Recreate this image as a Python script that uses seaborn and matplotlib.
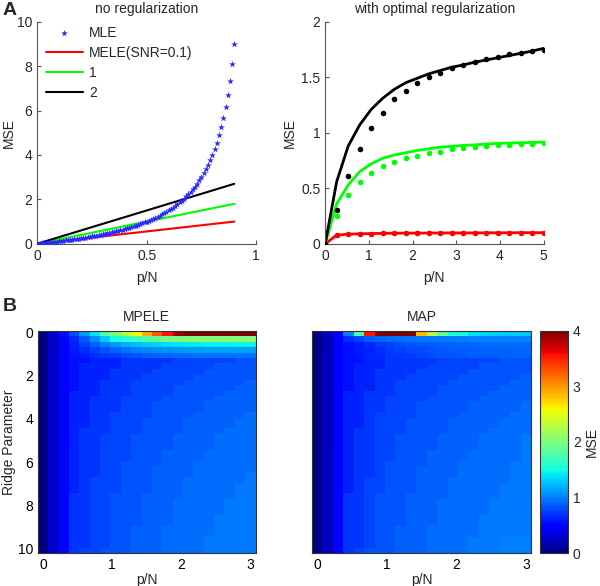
import numpy as np
import seaborn as sns
import matplotlib.pyplot as plt

# ---------------- panel A, left: no regularization ----------------
mle_pn = [0.00, 0.01, 0.02, 0.03, 0.04, 0.05, 0.06, 0.07, 0.08, 0.09,
          0.10, 0.11, 0.12, 0.13, 0.14, 0.15, 0.16, 0.17, 0.18, 0.19,
          0.20, 0.21, 0.22, 0.23, 0.24, 0.25, 0.26, 0.27, 0.28, 0.29,
          0.30, 0.31, 0.32, 0.33, 0.34, 0.35, 0.36, 0.37, 0.38, 0.39,
          0.40, 0.41, 0.42, 0.43, 0.44, 0.45, 0.46, 0.47, 0.48, 0.49,
          0.50, 0.51, 0.52, 0.53, 0.54, 0.55, 0.56, 0.57, 0.58, 0.59,
          0.60, 0.61, 0.62, 0.63, 0.64, 0.65, 0.66, 0.67, 0.68, 0.69,
          0.70, 0.71, 0.72, 0.73, 0.74, 0.75, 0.76, 0.77, 0.78, 0.79,
          0.80, 0.81, 0.82, 0.83, 0.84, 0.85, 0.86, 0.87, 0.88, 0.89, 0.90]
mle_mse = [0.00, 0.01, 0.02, 0.03, 0.04, 0.05, 0.06, 0.08, 0.09, 0.10,
           0.11, 0.12, 0.14, 0.15, 0.16, 0.18, 0.19, 0.20, 0.22, 0.23,
           0.25, 0.27, 0.28, 0.30, 0.32, 0.33, 0.35, 0.37, 0.39, 0.41,
           0.43, 0.45, 0.47, 0.49, 0.52, 0.54, 0.56, 0.59, 0.61, 0.64,
           0.67, 0.69, 0.72, 0.75, 0.79, 0.82, 0.85, 0.89, 0.92, 0.96,
           1.00, 1.04, 1.08, 1.13, 1.17, 1.22, 1.27, 1.33, 1.38, 1.44,
           1.50, 1.56, 1.63, 1.70, 1.78, 1.86, 1.94, 2.03, 2.13, 2.23,
           2.33, 2.45, 2.57, 2.70, 2.85, 3.00, 3.17, 3.35, 3.55, 3.76,
           4.00, 4.26, 4.56, 4.88, 5.25, 5.67, 6.14, 6.69, 7.33, 8.09, 9.00]
line_pn = [0.0, 0.9]
mele_snr01 = [0.0, 1.0]
mele_snr1 = [0.0, 1.8]
mele_snr2 = [0.0, 2.7]

# ---------------- panel A, right: optimal regularization ----------------
opt_pn = [0.0, 0.263, 0.526, 0.789, 1.053, 1.316, 1.579, 1.842, 2.105, 2.368,
          2.632, 2.895, 3.158, 3.421, 3.684, 3.947, 4.211, 4.474, 4.737, 5.0]
red_line = [0.0, 0.078, 0.086, 0.090, 0.092, 0.094, 0.095, 0.096, 0.096, 0.097,
            0.097, 0.098, 0.098, 0.098, 0.099, 0.099, 0.099, 0.100, 0.100, 0.100]
red_dots = [0.0, 0.075, 0.085, 0.089, 0.091, 0.093, 0.094, 0.095, 0.096, 0.096,
            0.097, 0.097, 0.098, 0.098, 0.098, 0.099, 0.099, 0.099, 0.099, 0.100]
green_line = [0.0, 0.36, 0.53, 0.65, 0.72, 0.77, 0.80, 0.82, 0.84, 0.855,
              0.87, 0.877, 0.886, 0.89, 0.898, 0.904, 0.907, 0.91, 0.913, 0.916]
green_dots = [0.0, 0.25, 0.44, 0.56, 0.64, 0.70, 0.74, 0.77, 0.79, 0.82,
              0.83, 0.85, 0.86, 0.87, 0.88, 0.885, 0.89, 0.90, 0.90, 0.91]
black_line = [0.0, 0.56, 0.88, 1.07, 1.21, 1.31, 1.39, 1.45, 1.49, 1.53,
              1.56, 1.59, 1.61, 1.635, 1.655, 1.675, 1.695, 1.715, 1.735, 1.76]
black_dots = [0.0, 0.30, 0.61, 0.85, 1.04, 1.18, 1.30, 1.38, 1.45, 1.50,
              1.54, 1.58, 1.61, 1.64, 1.665, 1.685, 1.71, 1.72, 1.74, 1.745]

# ---------------- panel B: MSE over p/N (columns) and ridge (rows) ----------------
grid_pn = [0.0, 0.15, 0.3, 0.45, 0.6, 0.75, 0.9, 1.05, 1.2, 1.35, 1.5,
           1.65, 1.8, 1.95, 2.1, 2.25, 2.4, 2.55, 2.7, 2.85, 3.0]
grid_ridge = [0.0, 0.25, 0.5, 0.75, 1.0, 1.25, 1.5, 1.75, 2.0, 2.25, 2.5, 2.75,
              3.0, 3.25, 3.5, 3.75, 4.0, 4.25, 4.5, 4.75, 5.0, 5.25, 5.5, 5.75,
              6.0, 6.25, 6.5, 6.75, 7.0, 7.25, 7.5, 7.75, 8.0, 8.25, 8.5, 8.75,
              9.0, 9.25, 9.5, 9.75, 10.0]

mpele_mse = [
    [.03, .25, .55, .80, 1.1, 1.4, 1.8, 2.0, 2.3, 2.55, 2.9, 3.25, 3.55, 3.9, 4.2, 4.3, 4.4, 4.5, 4.6, 4.7, 4.8],
    [.03, .25, .50, .66, .85, 1.05, 1.3, 1.5, 1.6, 1.7, 1.8, 1.88, 1.93, 1.97, 2.0, 2.0, 2.02, 2.02, 2.03, 2.03, 2.03],
    [.03, .25, .50, .62, .75, .88, 1.0, 1.1, 1.18, 1.24, 1.3, 1.34, 1.37, 1.4, 1.42, 1.43, 1.44, 1.45, 1.45, 1.46, 1.46],
    [.03, .26, .50, .60, .68, .76, .84, .90, .96, 1.0, 1.04, 1.07, 1.09, 1.1, 1.11, 1.12, 1.13, 1.13, 1.14, 1.14, 1.14],
    [.03, .26, .50, .58, .62, .68, .72, .76, .80, .83, .86, .88, .90, .92, .93, .94, .95, .95, .96, .96, .96],
    [.03, .27, .50, .56, .56, .64, .64, .64, .71, .71, .71, .71, .71, .78, .78, .78, .78, .78, .78, .84, .84],
    [.03, .27, .50, .56, .64, .64, .64, .64, .71, .71, .71, .71, .78, .78, .78, .78, .78, .84, .84, .84, .84],
    [.03, .27, .50, .56, .64, .64, .64, .71, .71, .71, .71, .78, .78, .78, .78, .78, .84, .84, .84, .84, .84],
    [.03, .27, .50, .56, .64, .64, .64, .71, .71, .71, .78, .78, .78, .78, .78, .84, .84, .84, .84, .84, .84],
    [.03, .27, .50, .56, .64, .64, .71, .71, .71, .78, .78, .78, .78, .78, .84, .84, .84, .84, .84, .84, .89],
    [.03, .27, .50, .56, .64, .64, .71, .71, .71, .78, .78, .78, .78, .84, .84, .84, .84, .84, .84, .89, .89],
    [.03, .27, .50, .64, .64, .64, .71, .71, .71, .78, .78, .78, .78, .84, .84, .84, .84, .84, .89, .89, .89],
    [.03, .27, .50, .64, .64, .71, .71, .71, .78, .78, .78, .78, .84, .84, .84, .84, .84, .89, .89, .89, .89],
    [.03, .27, .50, .64, .64, .71, .71, .71, .78, .78, .78, .84, .84, .84, .84, .84, .89, .89, .89, .89, .89],
    [.03, .27, .50, .64, .64, .71, .71, .71, .78, .78, .78, .84, .84, .84, .84, .84, .89, .89, .89, .89, .89],
    [.03, .27, .50, .64, .64, .71, .71, .78, .78, .78, .78, .84, .84, .84, .84, .89, .89, .89, .89, .89, .93],
    [.03, .27, .50, .64, .64, .71, .71, .78, .78, .78, .84, .84, .84, .84, .89, .89, .89, .89, .89, .93, .93],
    [.03, .27, .50, .64, .64, .71, .71, .78, .78, .78, .84, .84, .84, .84, .89, .89, .89, .89, .89, .93, .93],
    [.03, .27, .50, .64, .71, .71, .71, .78, .78, .78, .84, .84, .84, .84, .89, .89, .89, .89, .93, .93, .93],
    [.03, .27, .50, .64, .71, .71, .78, .78, .78, .84, .84, .84, .84, .89, .89, .89, .89, .93, .93, .93, .93],
    [.03, .27, .50, .64, .71, .71, .78, .78, .78, .84, .84, .84, .84, .89, .89, .89, .89, .93, .93, .93, .93],
    [.03, .27, .53, .64, .71, .71, .78, .78, .78, .84, .84, .84, .84, .89, .89, .89, .89, .93, .93, .93, .93],
    [.03, .27, .53, .64, .71, .71, .78, .78, .78, .84, .84, .84, .89, .89, .89, .89, .93, .93, .93, .93, .93],
    [.03, .27, .53, .64, .71, .71, .78, .78, .78, .84, .84, .84, .89, .89, .89, .89, .93, .93, .93, .93, .93],
    [.03, .27, .53, .64, .71, .71, .78, .78, .84, .84, .84, .84, .89, .89, .89, .93, .93, .93, .93, .93, .93],
    [.03, .27, .53, .64, .71, .71, .78, .78, .84, .84, .84, .89, .89, .89, .89, .93, .93, .93, .93, .93, .93],
    [.03, .27, .53, .64, .71, .71, .78, .78, .84, .84, .84, .89, .89, .89, .89, .93, .93, .93, .93, .93, .97],
    [.03, .27, .53, .64, .71, .78, .78, .78, .84, .84, .84, .89, .89, .89, .93, .93, .93, .93, .93, .93, .97],
    [.03, .27, .53, .64, .71, .78, .78, .78, .84, .84, .84, .89, .89, .89, .93, .93, .93, .93, .93, .97, .97],
    [.03, .27, .53, .64, .71, .78, .78, .78, .84, .84, .84, .89, .89, .89, .93, .93, .93, .93, .93, .97, .97],
    [.03, .27, .53, .71, .71, .78, .78, .84, .84, .84, .89, .89, .89, .89, .93, .93, .93, .93, .93, .97, .97],
    [.03, .27, .53, .71, .71, .78, .78, .84, .84, .84, .89, .89, .89, .93, .93, .93, .93, .93, .97, .97, .97],
    [.03, .27, .53, .71, .71, .78, .78, .84, .84, .84, .89, .89, .89, .93, .93, .93, .93, .93, .97, .97, .97],
    [.03, .27, .53, .71, .71, .78, .78, .84, .84, .84, .89, .89, .89, .93, .93, .93, .93, .93, .97, .97, .97],
    [.03, .27, .53, .71, .71, .78, .78, .84, .84, .84, .89, .89, .89, .93, .93, .93, .93, .97, .97, .97, .97],
    [.03, .27, .53, .71, .71, .78, .78, .84, .84, .84, .89, .89, .89, .93, .93, .93, .93, .97, .97, .97, .97],
    [.03, .27, .53, .71, .71, .78, .78, .84, .84, .89, .89, .89, .93, .93, .93, .93, .93, .97, .97, .97, .97],
    [.03, .27, .53, .71, .71, .78, .78, .84, .84, .89, .89, .89, .93, .93, .93, .93, .93, .97, .97, .97, .97],
    [.03, .27, .53, .71, .71, .78, .78, .84, .84, .89, .89, .89, .93, .93, .93, .93, .97, .97, .97, .97, .97],
    [.03, .27, .53, .71, .71, .78, .78, .84, .84, .89, .89, .89, .93, .93, .93, .93, .97, .97, .97, .97, .97],
    [.03, .27, .53, .71, .78, .78, .84, .84, .84, .89, .89, .89, .93, .93, .93, .93, .97, .97, .97, .97, .97],
]

map_mse = [
    [.03, .20, .45, 1.0, 1.75, 3.55, 4.2, 4.5, 4.4, 4.1, 2.85, 2.25, 1.85, 1.55, 1.5, 1.4, 1.35, 1.32, 1.3, 1.3, 1.28],
    [.03, .20, .45, .66, .78, .86, .90, .93, .95, .96, .97, .98, .98, .99, .99, 1.0, 1.0, 1.0, 1.0, 1.0, 1.0],
    [.03, .20, .45, .56, .60, .66, .72, .76, .80, .83, .85, .87, .88, .89, .90, .90, .91, .91, .92, .92, .92],
    [.03, .20, .45, .56, .60, .64, .68, .72, .76, .79, .81, .83, .85, .86, .87, .88, .88, .89, .89, .90, .90],
    [.03, .22, .47, .56, .58, .64, .66, .71, .71, .74, .78, .80, .82, .84, .85, .86, .87, .87, .88, .88, .88],
    [.03, .22, .47, .56, .56, .64, .64, .71, .71, .71, .71, .71, .78, .78, .78, .78, .78, .78, .84, .84, .84],
    [.03, .22, .47, .56, .64, .64, .64, .71, .71, .71, .71, .78, .78, .78, .78, .78, .84, .84, .84, .84, .84],
    [.03, .22, .47, .56, .64, .64, .71, .71, .71, .71, .78, .78, .78, .78, .78, .84, .84, .84, .84, .84, .84],
    [.03, .22, .47, .56, .64, .64, .71, .71, .71, .78, .78, .78, .78, .78, .84, .84, .84, .84, .84, .84, .89],
    [.03, .22, .47, .56, .64, .64, .71, .71, .78, .78, .78, .78, .78, .84, .84, .84, .84, .84, .84, .89, .89],
    [.03, .22, .47, .56, .64, .64, .71, .71, .78, .78, .78, .78, .84, .84, .84, .84, .84, .84, .89, .89, .89],
    [.03, .22, .47, .64, .64, .71, .71, .71, .78, .78, .78, .78, .84, .84, .84, .84, .84, .89, .89, .89, .89],
    [.03, .22, .47, .64, .64, .71, .71, .78, .78, .78, .78, .84, .84, .84, .84, .84, .89, .89, .89, .89, .89],
    [.03, .22, .47, .64, .64, .71, .71, .78, .78, .78, .84, .84, .84, .84, .84, .89, .89, .89, .89, .89, .93],
    [.03, .22, .47, .64, .64, .71, .71, .78, .78, .78, .84, .84, .84, .84, .84, .89, .89, .89, .89, .89, .93],
    [.03, .22, .47, .64, .64, .71, .78, .78, .78, .78, .84, .84, .84, .84, .89, .89, .89, .89, .89, .93, .93],
    [.03, .22, .47, .64, .64, .71, .78, .78, .78, .84, .84, .84, .84, .89, .89, .89, .89, .89, .93, .93, .93],
    [.03, .22, .47, .64, .64, .71, .78, .78, .78, .84, .84, .84, .84, .89, .89, .89, .89, .89, .93, .93, .93],
    [.03, .22, .47, .64, .71, .71, .78, .78, .78, .84, .84, .84, .84, .89, .89, .89, .89, .93, .93, .93, .93],
    [.03, .22, .47, .64, .71, .71, .78, .78, .84, .84, .84, .84, .89, .89, .89, .89, .93, .93, .93, .93, .97],
    [.03, .22, .47, .64, .71, .71, .78, .78, .84, .84, .84, .84, .89, .89, .89, .89, .93, .93, .93, .93, .97],
    [.03, .22, .50, .64, .71, .71, .78, .78, .84, .84, .84, .84, .89, .89, .89, .89, .93, .93, .93, .93, .97],
    [.03, .22, .50, .64, .71, .71, .78, .78, .84, .84, .84, .89, .89, .89, .89, .93, .93, .93, .93, .93, .97],
    [.03, .22, .50, .64, .71, .71, .78, .78, .84, .84, .84, .89, .89, .89, .89, .93, .93, .93, .93, .93, .97],
    [.03, .22, .50, .64, .71, .71, .78, .84, .84, .84, .84, .89, .89, .89, .93, .93, .93, .93, .93, .97, .97],
    [.03, .22, .50, .64, .71, .71, .78, .84, .84, .84, .89, .89, .89, .89, .93, .93, .93, .93, .93, .97, .97],
    [.03, .22, .50, .64, .71, .71, .78, .84, .84, .84, .89, .89, .89, .89, .93, .93, .93, .93, .93, .97, .97],
    [.03, .22, .50, .64, .71, .78, .78, .84, .84, .84, .89, .89, .89, .93, .93, .93, .93, .93, .93, .97, .97],
    [.03, .22, .50, .64, .71, .78, .78, .84, .84, .84, .89, .89, .89, .93, .93, .93, .93, .93, .97, .97, .97],
    [.03, .22, .50, .64, .71, .78, .78, .84, .84, .84, .89, .89, .89, .93, .93, .93, .93, .93, .97, .97, .97],
    [.03, .22, .50, .71, .71, .78, .84, .84, .84, .89, .89, .89, .89, .93, .93, .93, .93, .93, .97, .97, .97],
    [.03, .22, .50, .71, .71, .78, .84, .84, .84, .89, .89, .89, .93, .93, .93, .93, .93, .97, .97, .97, .97],
    [.03, .22, .50, .71, .71, .78, .84, .84, .84, .89, .89, .89, .93, .93, .93, .93, .93, .97, .97, .97, .97],
    [.03, .22, .50, .71, .71, .78, .84, .84, .84, .89, .89, .89, .93, .93, .93, .93, .93, .97, .97, .97, .97],
    [.03, .22, .50, .71, .71, .78, .84, .84, .84, .89, .89, .89, .93, .93, .93, .93, .97, .97, .97, .97, .97],
    [.03, .22, .50, .71, .71, .78, .84, .84, .84, .89, .89, .89, .93, .93, .93, .93, .97, .97, .97, .97, .97],
    [.03, .22, .50, .71, .71, .78, .84, .84, .89, .89, .89, .93, .93, .93, .93, .93, .97, .97, .97, .97, .97],
    [.03, .22, .50, .71, .71, .78, .84, .84, .89, .89, .89, .93, .93, .93, .93, .93, .97, .97, .97, .97, .97],
    [.03, .22, .50, .71, .71, .78, .84, .84, .89, .89, .89, .93, .93, .93, .93, .97, .97, .97, 1.0, 1.0, 1.0],
    [.03, .22, .50, .71, .71, .78, .84, .84, .89, .89, .89, .93, .93, .93, .93, .97, .97, .97, 1.0, 1.0, 1.0],
    [.03, .22, .50, .71, .78, .84, .84, .84, .89, .89, .89, .93, .93, .93, .93, .97, .97, .97, 1.0, 1.0, 1.0],
]


def style_line_axes(ax):
    sns.despine(ax=ax)
    for side in ['left', 'bottom']:
        ax.spines[side].set_color('#555555')
        ax.spines[side].set_linewidth(0.8)
    ax.tick_params(direction='in', length=3, width=0.8, color='#555555', labelsize=10)


def heat_ticks(ax, show_y):
    xt = [0, 1, 2, 3]
    yt = [0, 2, 4, 6, 8, 10]
    ax.set_xticks(np.interp(xt, grid_pn, np.arange(len(grid_pn))) + 0.5)
    ax.set_xticklabels([str(v) for v in xt], rotation=0)
    ax.set_yticks(np.interp(yt, grid_ridge, np.arange(len(grid_ridge))) + 0.5)
    ax.set_yticklabels([str(v) for v in yt] if show_y else [], rotation=0)
    for s in ax.spines.values():
        s.set_visible(True)
        s.set_linewidth(0.8)
        s.set_color('#333333')
    ax.tick_params(direction='in', length=3, width=0.8, top=True, right=True,
                   labelsize=10, colors='black')


sns.set_style("ticks")
plt.rcParams['font.family'] = ['Liberation Sans', 'DejaVu Sans']
plt.rcParams['font.size'] = 10

fig = plt.figure(figsize=(6.0, 5.86), dpi=100)
ax1 = fig.add_axes([0.062, 0.584, 0.365, 0.379])
ax2 = fig.add_axes([0.542, 0.584, 0.364, 0.379])
ax3 = fig.add_axes([0.063, 0.0563, 0.363, 0.379])
ax4 = fig.add_axes([0.52, 0.0563, 0.365, 0.379])
cax = fig.add_axes([0.90, 0.0563, 0.0467, 0.379])

# --- A left ---
sns.scatterplot(x=mle_pn, y=mle_mse, ax=ax1, marker='*', s=26, color='#2a2aff',
                linewidth=0, label='MLE', zorder=3)
for vals, col, lab in [(mele_snr01, '#ff0000', 'MELE(SNR=0.1)'),
                       (mele_snr1, '#00ff00', '1'),
                       (mele_snr2, '#000000', '2')]:
    sns.lineplot(x=line_pn, y=vals, ax=ax1, color=col, lw=1.5, label=lab)
ax1.set(xlim=(0, 1), ylim=(0, 10), xticks=[0, 0.5, 1], yticks=[0, 2, 4, 6, 8, 10])
ax1.set_xticklabels(['0', '0.5', '1'])
ax1.set_xlabel('p/N', labelpad=6)
ax1.set_ylabel('MSE', labelpad=1)
ax1.set_title('no regularization', fontsize=10, pad=6)
ax1.legend(loc='upper left', bbox_to_anchor=(0.0, 1.02), frameon=False, fontsize=10,
           handlelength=2.7, handletextpad=0.45, labelspacing=0.45, borderaxespad=0.2)
style_line_axes(ax1)

# --- A right ---
for line, dots, col in [(red_line, red_dots, '#ff0000'),
                        (green_line, green_dots, '#00ff00'),
                        (black_line, black_dots, '#000000')]:
    sns.lineplot(x=opt_pn, y=line, ax=ax2, color=col, lw=2, legend=False)
    sns.scatterplot(x=opt_pn, y=dots, ax=ax2, color=col, s=16, linewidth=0,
                    legend=False, zorder=3)
ax2.set(xlim=(0, 5), ylim=(0, 2), xticks=[0, 1, 2, 3, 4, 5], yticks=[0, 0.5, 1, 1.5, 2])
ax2.set_yticklabels(['0', '0.5', '1', '1.5', '2'])
ax2.set_xlabel('p/N', labelpad=6)
ax2.set_ylabel('MSE', labelpad=3)
ax2.set_title('with optimal regularization', fontsize=10, pad=6)
style_line_axes(ax2)

# --- B heatmaps ---
sns.heatmap(np.array(mpele_mse), ax=ax3, cmap='jet', vmin=0, vmax=4, cbar=False)
heat_ticks(ax3, True)
ax3.set_xlabel('p/N', labelpad=1)
ax3.set_ylabel('Ridge Parameter', labelpad=1)
ax3.set_title('MPELE', fontsize=10, pad=7)

sns.heatmap(np.array(map_mse), ax=ax4, cmap='jet', vmin=0, vmax=4, cbar=True,
            cbar_ax=cax, cbar_kws={'ticks': [0, 1, 2, 3, 4]})
heat_ticks(ax4, False)
ax4.set_xlabel('p/N', labelpad=1)
ax4.set_ylabel('')
ax4.set_title('MAP', fontsize=10, pad=7)

cb = ax4.collections[0].colorbar
cb.outline.set_linewidth(0.8)
cb.outline.set_edgecolor('#333333')
cax.tick_params(direction='in', length=3, labelsize=10)
cax.set_ylabel('MSE', fontsize=10, labelpad=3)

fig.text(0.004, 0.997, 'A', fontsize=14, fontweight='bold', va='top', ha='left')
fig.text(0.004, 0.492, 'B', fontsize=14, fontweight='bold', va='top', ha='left')

fig.savefig('out.png', dpi=100)
